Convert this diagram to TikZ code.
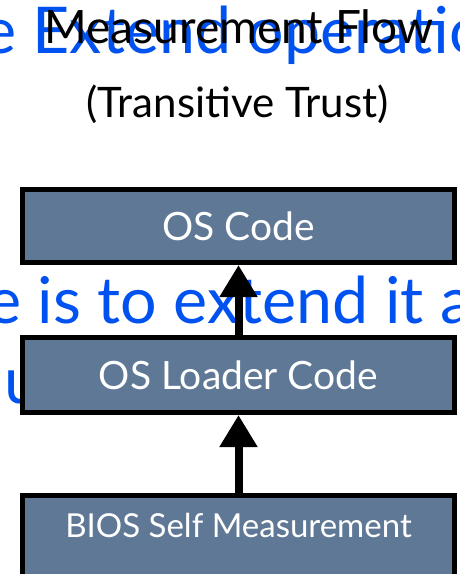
\documentclass[tikz,border=0pt]{standalone}
\usepackage{fontspec}
\setmainfont{Lato}
\usetikzlibrary{arrows.meta}
\definecolor{slate}{RGB}{95,120,150}
\definecolor{ribbonblue}{RGB}{0,82,240}
\begin{document}
\begin{tikzpicture}[x=1pt,y=-1pt,
  box/.style={draw=black,line width=5pt,fill=slate,minimum width=432pt,minimum height=73pt,inner sep=0pt},
  boxtext/.style={text=white,font=\fontsize{39}{42}\selectfont},
  flow/.style={line width=8pt,-{Triangle[width=36pt,length=32pt]}},
  bluetext/.style={text=ribbonblue,font=\fontsize{64.5}{70}\selectfont,inner sep=0pt,anchor=base west},
  heading/.style={text=black,inner sep=0pt,anchor=base}]
\useasboundingbox (0,0) rectangle (460,574);
\clip (0,0) rectangle (460,574);
\fill[white] (0,0) rectangle (460,574);
% blue slide text lying underneath
\node[bluetext] (l1) at (-18,53) {e Extend operatio};
\node[bluetext] (l2) at (-13,323) {e is to extend it a};
\node[bluetext] (l3) at (4,403) {u};
% headings
\node[heading,font=\fontsize{46}{50}\selectfont] (title) at (239,43) {Measurement Flow};
\node[heading,font=\fontsize{42}{46}\selectfont] (sub) at (237.5,117) {(Transitive Trust)};
% boxes
\node[box,boxtext] (os) at (238.5,226) {OS Code};
\node[box,boxtext,minimum height=75pt] (loader) at (238.5,375) {OS Loader Code};
\node[box,minimum height=100pt] (bios) at (238.5,545) {};
\node[boxtext,font=\fontsize{33}{36}\selectfont,inner sep=0pt] (biostext) at (238.5,525) {BIOS Self Measurement};
% measurement chain
\draw[flow] (loader.north) -- (os.south);
\draw[flow] (bios.north) -- (loader.south);
\end{tikzpicture}
\end{document}
